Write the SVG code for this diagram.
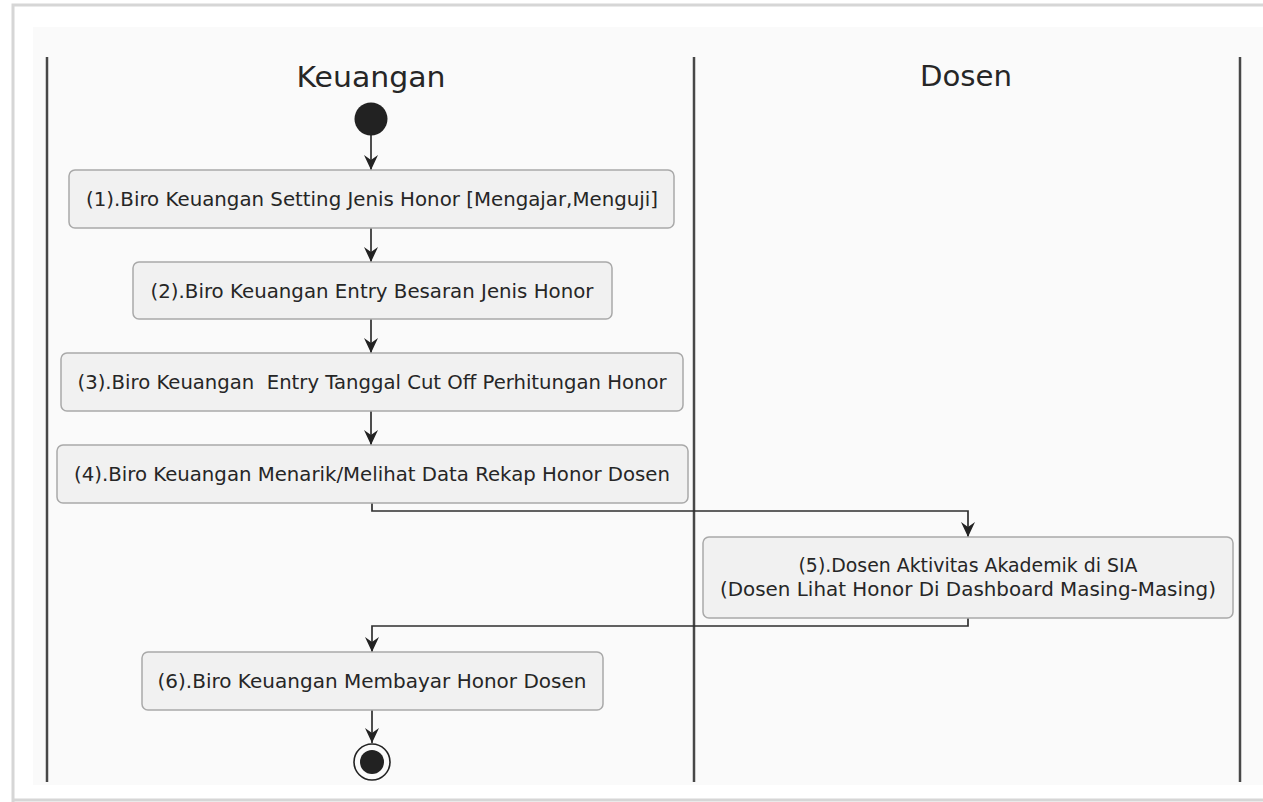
<svg xmlns="http://www.w3.org/2000/svg" width="1263" height="802" viewBox="0 0 1263 802">
<style>
.frame{fill:none;stroke:#d6d6d6;stroke-width:3}
.lane{stroke:#474747;stroke-width:2.5}
.box{fill:#f1f1f1;stroke:#a9a9a9;stroke-width:1.5}
.t{font-family:"DejaVu Sans",sans-serif;font-size:19px;fill:#262626;text-anchor:middle;dominant-baseline:central}
.h{font-family:"DejaVu Sans",sans-serif;font-size:29px;fill:#262626;text-anchor:middle}
.c{fill:none;stroke:#2f2f2f;stroke-width:1.7}
</style>
<defs>
<marker id="ah" markerUnits="userSpaceOnUse" markerWidth="15" markerHeight="14" viewBox="0 0 15 14" refX="15" refY="7" orient="auto">
<path d="M0,0 L15,7 L0,14 L5,7 Z" fill="#222"/>
</marker>
</defs>
<rect x="0" y="0" width="1263" height="802" fill="#ffffff"/>
<path class="frame" d="M13,802 V5 H1263"/>
<line x1="13" y1="800" x2="1263" y2="800" stroke="#d6d6d6" stroke-width="3"/>
<rect x="33" y="27" width="1230" height="758" fill="#fafafa"/>
<g id="lanes">
<line class="lane" x1="47" y1="57" x2="47" y2="782"/>
<line class="lane" x1="694" y1="57" x2="694" y2="782"/>
<line class="lane" x1="1240" y1="57" x2="1240" y2="782"/>
<text class="h" x="371" y="87" textLength="149" lengthAdjust="spacingAndGlyphs">Keuangan</text>
<text class="h" x="966" y="86" textLength="92" lengthAdjust="spacingAndGlyphs">Dosen</text>
</g>
<g id="connectors">
<line class="c" x1="371" y1="135" x2="371" y2="170" marker-end="url(#ah)"/>
<line class="c" x1="371" y1="228" x2="371" y2="262" marker-end="url(#ah)"/>
<line class="c" x1="371" y1="319" x2="371" y2="353" marker-end="url(#ah)"/>
<line class="c" x1="371" y1="411" x2="371" y2="445" marker-end="url(#ah)"/>
<path class="c" d="M372,503 V511 H968 V537" marker-end="url(#ah)"/>
<path class="c" d="M968,618 V626 H372 V652" marker-end="url(#ah)"/>
<line class="c" x1="372" y1="710" x2="372" y2="743" marker-end="url(#ah)"/>
</g>
<g id="start"><circle cx="371" cy="119" r="16.5" fill="#222"/></g>
<g id="n1"><rect class="box" x="69" y="170" width="605" height="58" rx="6"/>
<text class="t" x="372" y="199" textLength="572" lengthAdjust="spacingAndGlyphs">(1).Biro Keuangan Setting Jenis Honor [Mengajar,Menguji]</text></g>
<g id="n2"><rect class="box" x="133" y="262" width="479" height="57" rx="6"/>
<text class="t" x="372" y="290.5" textLength="443" lengthAdjust="spacingAndGlyphs">(2).Biro Keuangan Entry Besaran Jenis Honor</text></g>
<g id="n3"><rect class="box" x="61" y="353" width="622" height="58" rx="6"/>
<text class="t" x="372" y="382" textLength="589" lengthAdjust="spacingAndGlyphs" xml:space="preserve">(3).Biro Keuangan  Entry Tanggal Cut Off Perhitungan Honor</text></g>
<g id="n4"><rect class="box" x="57" y="445" width="631" height="58" rx="6"/>
<text class="t" x="372" y="474" textLength="596" lengthAdjust="spacingAndGlyphs">(4).Biro Keuangan Menarik/Melihat Data Rekap Honor Dosen</text></g>
<g id="n5"><rect class="box" x="703" y="537" width="530" height="81" rx="6"/>
<text class="t" x="968" y="565" textLength="339" lengthAdjust="spacingAndGlyphs">(5).Dosen Aktivitas Akademik di SIA</text>
<text class="t" x="968" y="589" textLength="496" lengthAdjust="spacingAndGlyphs">(Dosen Lihat Honor Di Dashboard Masing-Masing)</text></g>
<g id="n6"><rect class="box" x="142" y="652" width="461" height="58" rx="6"/>
<text class="t" x="372" y="681" textLength="429" lengthAdjust="spacingAndGlyphs">(6).Biro Keuangan Membayar Honor Dosen</text></g>
<g id="end"><circle cx="372" cy="762" r="18" fill="#fafafa" stroke="#222" stroke-width="1.6"/>
<circle cx="372" cy="762" r="12" fill="#222"/></g>
</svg>
